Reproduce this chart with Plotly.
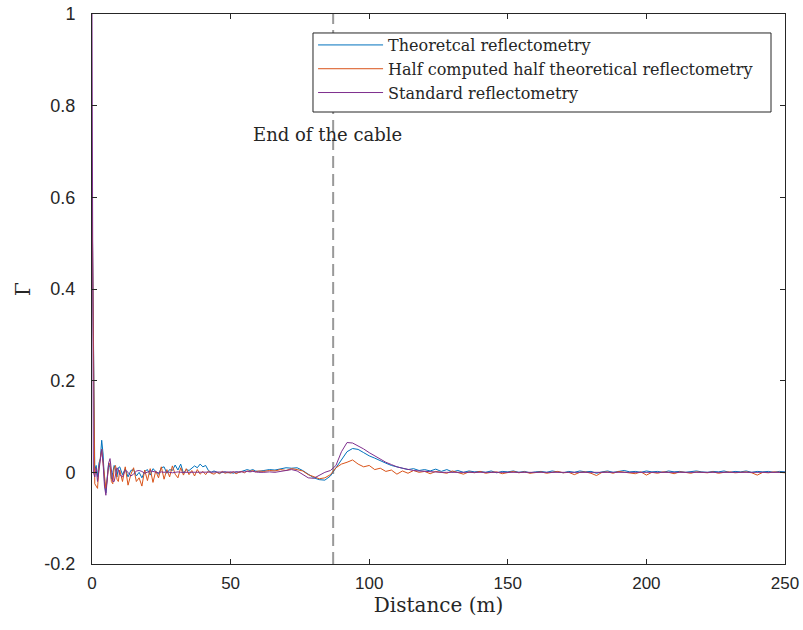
import numpy as np
import plotly.graph_objects as go

# Distance grid (m)
dist = np.concatenate([np.arange(0, 10.01, 0.5), np.arange(11, 61, 1), np.arange(62, 251, 2)])

theoretical = [
    # 0..10 step 0.5
    0.62, 0.23, 0.005, 0.015, -0.01, 0.02, 0.03, 0.07, 0.04, -0.02, -0.045, -0.01, 0.02, 0.01, -0.015, 0.0, 0.015, 0.005, -0.01, 0.01, 0.012,
    # 11..60 step 1
    -0.005, 0.008, -0.01, 0.004, 0.006, -0.008, 0.0, -0.012, 0.002, 0.006,
    -0.006, 0.008, 0.002, -0.004, 0.01, 0.012, -0.002, 0.006, 0.004, 0.016,
    0.005, 0.018, -0.002, 0.006, 0.004, 0.01, 0.014, 0.01, 0.018, 0.012,
    0.015, 0.004, 0.0, 0.003, 0.001, -0.002, 0.0, 0.001, -0.001, 0.0,
    -0.002, 0.001, 0.0, 0.002, 0.004, 0.006, 0.004, 0.006, 0.003, 0.002,
    # 62..250 step 2
    0.004, 0.006, 0.005, 0.008, 0.01, 0.009, 0.01, 0.004, -0.004, -0.012,
    -0.016, -0.017, -0.008, 0.01, 0.028, 0.045, 0.052, 0.05, 0.043, 0.036,
    0.031, 0.025, 0.02, 0.015, 0.012, 0.01, 0.006, 0.008, 0.004, 0.006,
    0.003, 0.007, 0.002, 0.006, 0.001, 0.004, 0.0, 0.003, 0.001, 0.002,
    0.0, 0.003, -0.001, 0.002, 0.001, 0.003, 0.0, 0.002, -0.001, 0.001,
    0.002, 0.0, 0.003, 0.001, -0.001, 0.002, 0.0, 0.003, 0.001, 0.002,
    -0.002, 0.001, 0.003, 0.0, 0.002, 0.004, 0.001, 0.002, 0.0, 0.003,
    0.001, 0.002, 0.0, 0.003, 0.001, 0.002, 0.0, 0.002, 0.003, 0.001,
    0.0, 0.002, 0.001, 0.003, 0.0, 0.002, 0.001, 0.003, 0.0, 0.002,
    0.001, 0.002, 0.0, 0.002, 0.001,
]

half_computed = [
    # 0..10 step 0.5
    0.62, 0.20, -0.025, -0.03, -0.035, 0.01, 0.03, 0.05, 0.02, -0.015, -0.035, -0.015, 0.015, 0.02, -0.02, -0.025, 0.01, 0.015, -0.015, -0.02, 0.005,
    # 11..60 step 1
    -0.02, 0.012, -0.028, -0.005, 0.01, -0.02, -0.012, -0.03, 0.005, -0.018,
    0.008, -0.022, 0.003, -0.012, 0.012, -0.015, 0.006, -0.01, 0.014, -0.004,
    -0.012, 0.01, -0.006, 0.008, -0.005, 0.004, -0.008, 0.006, -0.004, 0.002,
    -0.005, 0.003, -0.002, -0.004, 0.0, -0.003, 0.002, -0.002, 0.0, -0.002,
    0.001, -0.003, 0.0, 0.002, -0.001, 0.003, 0.002, 0.004, 0.001, 0.003,
    # 62..250 step 2
    0.002, 0.004, 0.003, 0.006, 0.004, 0.008, 0.006, 0.003, -0.005, -0.01,
    -0.014, -0.012, -0.005, 0.01, 0.018, 0.022, 0.027, 0.018, 0.012, 0.015,
    0.006, 0.009, 0.002, 0.005, -0.004, 0.003, -0.002, 0.004, 0.0, 0.002,
    -0.003, 0.002, 0.0, -0.002, 0.003, 0.0, -0.004, 0.001, -0.001, 0.002,
    -0.002, 0.0, 0.001, -0.003, 0.0, 0.002, -0.001, 0.001, -0.002, 0.0,
    0.001, -0.002, 0.0, 0.002, -0.001, 0.0, -0.005, 0.0, 0.001, -0.002,
    -0.007, 0.0, 0.001, -0.002, 0.002, 0.0, -0.001, -0.003, 0.001, -0.006,
    0.0, -0.002, 0.001, 0.0, -0.003, 0.001, 0.0, -0.002, 0.001, 0.0,
    -0.001, 0.001, -0.002, 0.0, 0.001, -0.001, 0.0, 0.001, -0.001, -0.006,
    0.0, -0.001, 0.001, 0.0, -0.001,
]

standard = [
    # 0..10 step 0.5
    1.0, 0.0, -0.01, 0.01, -0.02, 0.005, 0.03, 0.05, 0.02, -0.03, -0.05, -0.02, 0.02, 0.03, 0.01, -0.02, -0.02, 0.0, 0.01, 0.005, -0.005,
    # 11..60 step 1
    -0.01, 0.005, 0.0, -0.008, -0.004, 0.003, 0.004, 0.002, -0.002, 0.0,
    0.003, 0.002, 0.0, -0.001, 0.001, 0.0, 0.001, 0.0, -0.001, 0.0,
    0.001, 0.0, 0.0, 0.001, 0.0, 0.0, 0.0, 0.0, 0.0, 0.0,
    0.0, 0.0, 0.0, 0.0, 0.0, 0.0, 0.0, 0.0, 0.0, 0.0,
    0.0, 0.0, 0.0, 0.0, 0.001, 0.002, 0.001, 0.002, 0.001, 0.0,
    # 62..250 step 2
    0.0, 0.001, 0.0, 0.002, 0.004, 0.006, 0.003, -0.004, -0.012, -0.013,
    -0.006, 0.0, 0.004, 0.015, 0.045, 0.065, 0.064, 0.058, 0.051, 0.043,
    0.036, 0.029, 0.022, 0.017, 0.012, 0.009, 0.006, 0.004, 0.003, 0.002,
    0.001, 0.001, 0.0, 0.0, 0.0, 0.0, 0.0, 0.0, 0.0, 0.0,
    0.0, 0.0, 0.0, 0.0, 0.0, 0.0, 0.0, 0.0, 0.0, 0.0,
    0.0, 0.0, 0.0, 0.0, 0.0, 0.0, 0.0, 0.0, 0.0, 0.0,
    0.0, 0.0, 0.0, 0.0, 0.0, 0.0, 0.0, 0.0, 0.0, 0.0,
    0.0, 0.0, 0.0, 0.0, 0.0, 0.0, 0.0, 0.0, 0.0, 0.0,
    0.0, 0.0, 0.0, 0.0, 0.0, 0.0, 0.0, 0.0, 0.0, 0.0,
    0.0, 0.0, 0.0, 0.0, 0.0,
]

series_names = ["Theoretcal reflectometry", "Half computed half theoretical reflectometry", "Standard reflectometry"]
series_colors = ["#0072BD", "#D95319", "#7E2F8E"]

cable_end = 87.0
x_ticks = [0, 50, 100, 150, 200, 250]
y_ticks = [-0.2, 0, 0.2, 0.4, 0.6, 0.8, 1]
y_tick_text = ["-0.2", "0", "0.2", "0.4", "0.6", "0.8", "1"]

axis_color = "#262626"
serif = "DejaVu Serif, Liberation Serif, serif"
sans = "Liberation Sans, Arial, sans-serif"

fig = go.Figure()
for name, vals, col in zip(series_names, [theoretical, half_computed, standard], series_colors):
    fig.add_trace(go.Scatter(x=dist, y=vals, mode="lines", name=name,
                             line=dict(color=col, width=1)))

fig.add_shape(type="line", x0=cable_end, x1=cable_end, y0=-0.2, y1=1, xref="x", yref="y",
              line=dict(color="#999999", width=2, dash="12px,6px"), layer="below")

# legend frame
fig.add_shape(type="rect", xref="paper", yref="paper", x0=0.3189, x1=0.9798, y0=0.8218, y1=0.9655,
              fillcolor="white", line=dict(color=axis_color, width=1), layer="above")

fig.add_annotation(x=84.8, y=0.738, xref="x", yref="y", text="End of the cable",
                   showarrow=False, font=dict(family=serif, size=18, color=axis_color))

fig.update_layout(
    width=803, height=630,
    autosize=False,
    margin=dict(l=92, r=18, t=14, b=66, pad=0, autoexpand=False),
    paper_bgcolor="white", plot_bgcolor="white",
    showlegend=True,
    legend=dict(x=0.319, y=0.9745, xanchor="left", yanchor="top",
                bgcolor="rgba(0,0,0,0)", borderwidth=0,
                font=dict(family=serif, size=16, color=axis_color),
                itemwidth=65, tracegroupgap=0),
    xaxis=dict(range=[0, 250], tickvals=x_ticks, showgrid=False, zeroline=False, automargin=False,
               showline=True, linecolor=axis_color, linewidth=1, mirror="ticks",
               ticks="inside", ticklen=5, tickcolor=axis_color, ticklabelstandoff=4,
               ticklabeloverflow="allow",
               tickfont=dict(family=sans, size=17, color=axis_color),
               title=dict(text="Distance (m)", font=dict(family=serif, size=20, color=axis_color), standoff=5)),
    yaxis=dict(range=[-0.2, 1], tickvals=y_ticks, ticktext=y_tick_text, showgrid=False, zeroline=False, automargin=False,
               showline=True, linecolor=axis_color, linewidth=1, mirror="ticks",
               ticks="inside", ticklen=5, tickcolor=axis_color, ticklabelstandoff=12,
               ticklabeloverflow="allow",
               tickfont=dict(family=sans, size=18, color=axis_color),
               title=dict(text="Γ", font=dict(family=serif, size=20, color=axis_color), standoff=8)),
)

fig.write_html("out.html",
               config={"displayModeBar": False},
               post_script="document.body.style.margin='0';document.body.style.overflow='hidden';")
